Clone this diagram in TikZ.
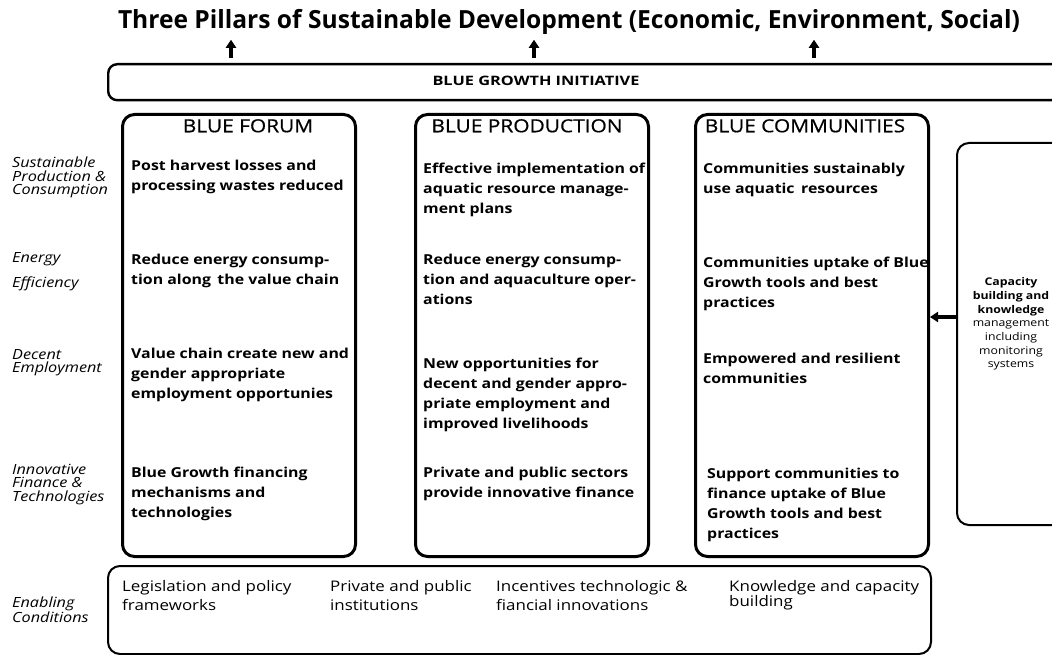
\documentclass[tikz,border=0pt]{standalone}
\usepackage{fontspec}
\setmainfont{Open Sans}[FakeStretch=1.16]
\newfontfamily\headfont{Open Sans}[FakeStretch=1.16, FakeBold=0.7]
\usetikzlibrary{arrows.meta}
\tikzset{
  pillar box/.style={
    draw,
    line width=3pt,
    rounded corners=12pt,
    minimum width=233pt,
    minimum height=442pt,
    anchor=north west,
  },
  pillar head/.style={
    anchor=north,
    inner sep=0pt,
    font=\fontsize{18}{22}\headfont,
  },
  cell text/.style={
    anchor=north west,
    inner sep=0pt,
    align=left,
    font=\fontsize{13.7}{20}\selectfont\bfseries,
  },
  row label/.style={
    anchor=north west,
    inner sep=0pt,
    align=left,
    font=\fontsize{14}{13.5}\selectfont\itshape,
  },
  cond text/.style={
    anchor=north west,
    inner sep=0pt,
    align=left,
    font=\fontsize{14.6}{19}\selectfont,
  },
  big arrow/.style={
    line width=3.2pt,
    -{Triangle[length=8pt,width=10pt]},
  },
}

\begin{document}
\begin{tikzpicture}[x=1pt, y=-1pt]
      \clip (0,0) rectangle (1052,655);
      \fill[white] (0,0) rectangle (1052,655);

      % title and top box
      \node[inner sep=0pt, font=\fontsize{25}{28}\selectfont\bfseries] (title) at (569,22)
        {\resizebox{902pt}{\height}{Three Pillars of Sustainable Development (Economic, Environment, Social)}};
      \node[draw, line width=2.4pt, rounded corners=9pt, minimum width=955pt, minimum height=36pt,
        anchor=north west] (bgi) at (107,63) {};
      \node[font=\fontsize{13}{15}\selectfont\bfseries] (bgitext) at (536,81)
        {\resizebox{207pt}{\height}{BLUE GROWTH INITIATIVE}};

      \coordinate (a1) at (231,58);
      \coordinate (a2) at (534,58);
      \coordinate (a3) at (814,58);
      \foreach \a in {a1,a2,a3}
        \draw[big arrow] (\a) -- ([yshift=-5pt]title.south -| \a);

      % pillars
      \node[pillar box] (forum) at (121,113) {};
      \node[pillar box] (prod) at (414,113) {};
      \node[pillar box] (comm) at (694,113) {};
      \node[pillar head] (hf) at (248,119) {BLUE FORUM};
      \node[pillar head] (hp) at (527,119) {BLUE PRODUCTION};
      \node[pillar head] (hc) at (805,119) {BLUE COMMUNITIES};

      % row labels
      \node[row label] (l1) at (12,157) {Sustainable\\Production \&\\Consumption};
      \node[row label] (l2) at (12,252) {Energy\\[10pt]Efficiency};
      \node[row label] (l3) at (12,349) {Decent\\Employment};
      \node[row label] (l4) at (12,464) {Innovative\\Finance \&\\Technologies};
      \node[row label] (l5) at (12,597) {Enabling\\Conditions};

      % blue forum
      \node[cell text] (f1) at (131,160) {Post harvest losses and\\processing wastes reduced};
      \node[cell text] (f2) at (131,254) {Reduce energy consump-\\tion along\, the value chain};
      \node[cell text] (f3) at (131,348) {Value chain create new and\\gender appropriate\\employment opportunies};
      \node[cell text] (f4) at (131,467) {Blue Growth financing\\mechanisms and\\technologies};

      % blue production
      \node[cell text] (p1) at (423,163) {Effective implementation of\\aquatic resource manage-\\ment plans};
      \node[cell text] (p2) at (423,254) {Reduce energy consump-\\tion and aquaculture oper-\\ations};
      \node[cell text] (p3) at (423,358) {New opportunities for\\decent and gender appro-\\priate employment and\\improved livelihoods};
      \node[cell text] (p4) at (423,467) {Private and public sectors\\provide innovative finance};

      % blue communities
      \node[cell text] (c1) at (703,163) {Communities sustainably\\use aquatic\, resources};
      \node[cell text] (c2) at (703,257) {Communities uptake of Blue\\Growth tools and best\\practices};
      \node[cell text] (c3) at (703,353) {Empowered and resilient\\communities};
      \node[cell text] (c4) at (707,468) {Support communities to\\finance uptake of Blue\\Growth tools and best\\practices};

      % capacity building
      \node[draw, line width=2pt, rounded corners=12pt, minimum width=130pt, minimum height=382pt,
        anchor=north west] (cap) at (956,142) {};
      \node[align=center, inner sep=0pt, font=\fontsize{10.6}{13.7}\selectfont] (captext) at (1011,324)
        {\textbf{Capacity}\\\textbf{building and}\\\textbf{knowledge}\\management\\including\\monitoring\\systems};
      \draw[big arrow] (cap.west |- 0,317) -- (comm.east |- 0,317);

      % enabling conditions
      \node[draw, line width=2pt, rounded corners=12pt, minimum width=823pt, minimum height=88pt,
        anchor=north west] (cond) at (107,565) {};
      \node[cond text] (e1) at (122,580) {Legislation and policy\\frameworks};
      \node[cond text] (e2) at (330,580) {Private and public\\institutions};
      \node[cond text] (e3) at (496,580) {Incentives technologic \&\\fiancial innovations};
      \node[cond text, font=\fontsize{14.6}{15}\selectfont] (e4) at (729,580) {Knowledge and capacity\\building};
    \end{tikzpicture}
\end{document}
